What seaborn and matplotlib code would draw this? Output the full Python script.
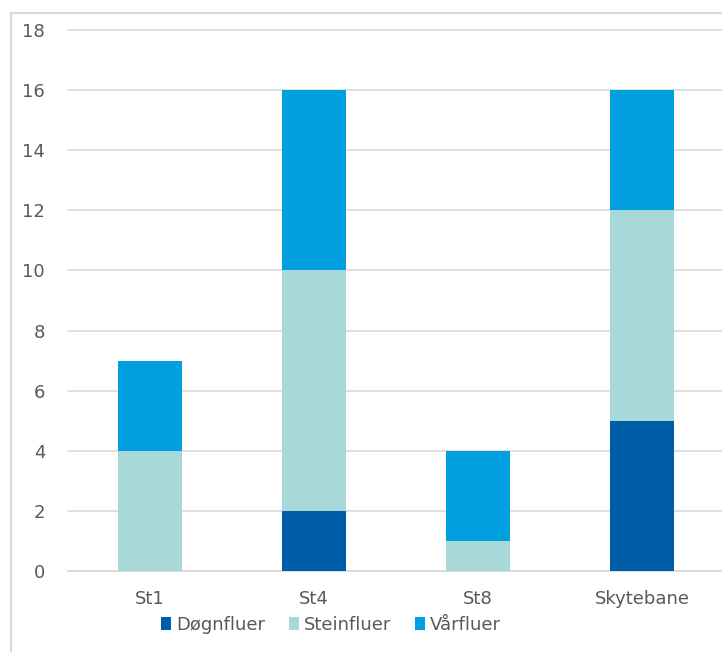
import matplotlib
matplotlib.use("Agg")
import matplotlib.pyplot as plt
from matplotlib.lines import Line2D
from matplotlib.patches import Patch
import seaborn as sns
import pandas as pd
import numpy as np

categories = ["St1", "St4", "St8", "Skytebane"]
dognfluer = [0, 2, 0, 5]
steinfluer = [4, 8, 1, 7]
varfluer = [3, 6, 3, 4]
series_names = ["Døgnfluer", "Steinfluer", "Vårfluer"]
colors = ["#005EA8", "#A9D8D8", "#009FDF"]

sns.set_theme(style="white")
plt.rcParams['font.family'] = ['DejaVu Sans']

fig = plt.figure(figsize=(7.22, 6.52), dpi=100)
ax = fig.add_axes([68/722, 81/652, 656/722, 541/652])

df = pd.DataFrame({"cat": categories, "d": dognfluer, "s": steinfluer, "v": varfluer})
df["ds"] = df["d"] + df["s"]
df["dsv"] = df["ds"] + df["v"]

# draw stacked bars: cumulative totals from top layer down
for col, c in [("dsv", colors[2]), ("ds", colors[1]), ("d", colors[0])]:
    sns.barplot(data=df, x="cat", y=col, color=c, width=0.39, ax=ax,
                saturation=1, linewidth=0, zorder=3, order=categories)

ax.set_xlim(-0.5, 3.5)
ax.set_ylim(0, 18)
ax.set_yticks(range(0, 19, 2))
ax.set_xlabel("")
ax.set_ylabel("")
ax.grid(axis="y", color="#D9D9D9", linewidth=1.2, zorder=0)
for gl in ax.get_ygridlines():
    gl.set_clip_on(False)
ax.set_axisbelow(True)
for s in ["top", "right", "left"]:
    ax.spines[s].set_visible(False)
ax.spines["bottom"].set_color("#D9D9D9")
ax.spines["bottom"].set_linewidth(1.2)
ax.tick_params(axis="both", length=0, labelsize=13, colors="#595959")
ax.tick_params(axis="y", pad=16.5)
ax.tick_params(axis="x", pad=14)

handles = [Patch(facecolor=c, edgecolor="none") for c in colors]
fig.legend(handles, series_names, loc="center", bbox_to_anchor=(331/722, 1 - 625/652),
           ncol=3, frameon=False, fontsize=13, handlelength=0.55, handleheight=0.75,
           handletextpad=0.3, columnspacing=1.3, labelcolor="#595959")

# outer chart frame
fig.add_artist(Line2D([11/722, 11/722], [0, 1 - 13/652], color="#D9D9D9", linewidth=1.5,
                      transform=fig.transFigure))
fig.add_artist(Line2D([11/722, 1], [1 - 13/652, 1 - 13/652], color="#D9D9D9", linewidth=1.5,
                      transform=fig.transFigure))

fig.savefig("out.png", dpi=100)
